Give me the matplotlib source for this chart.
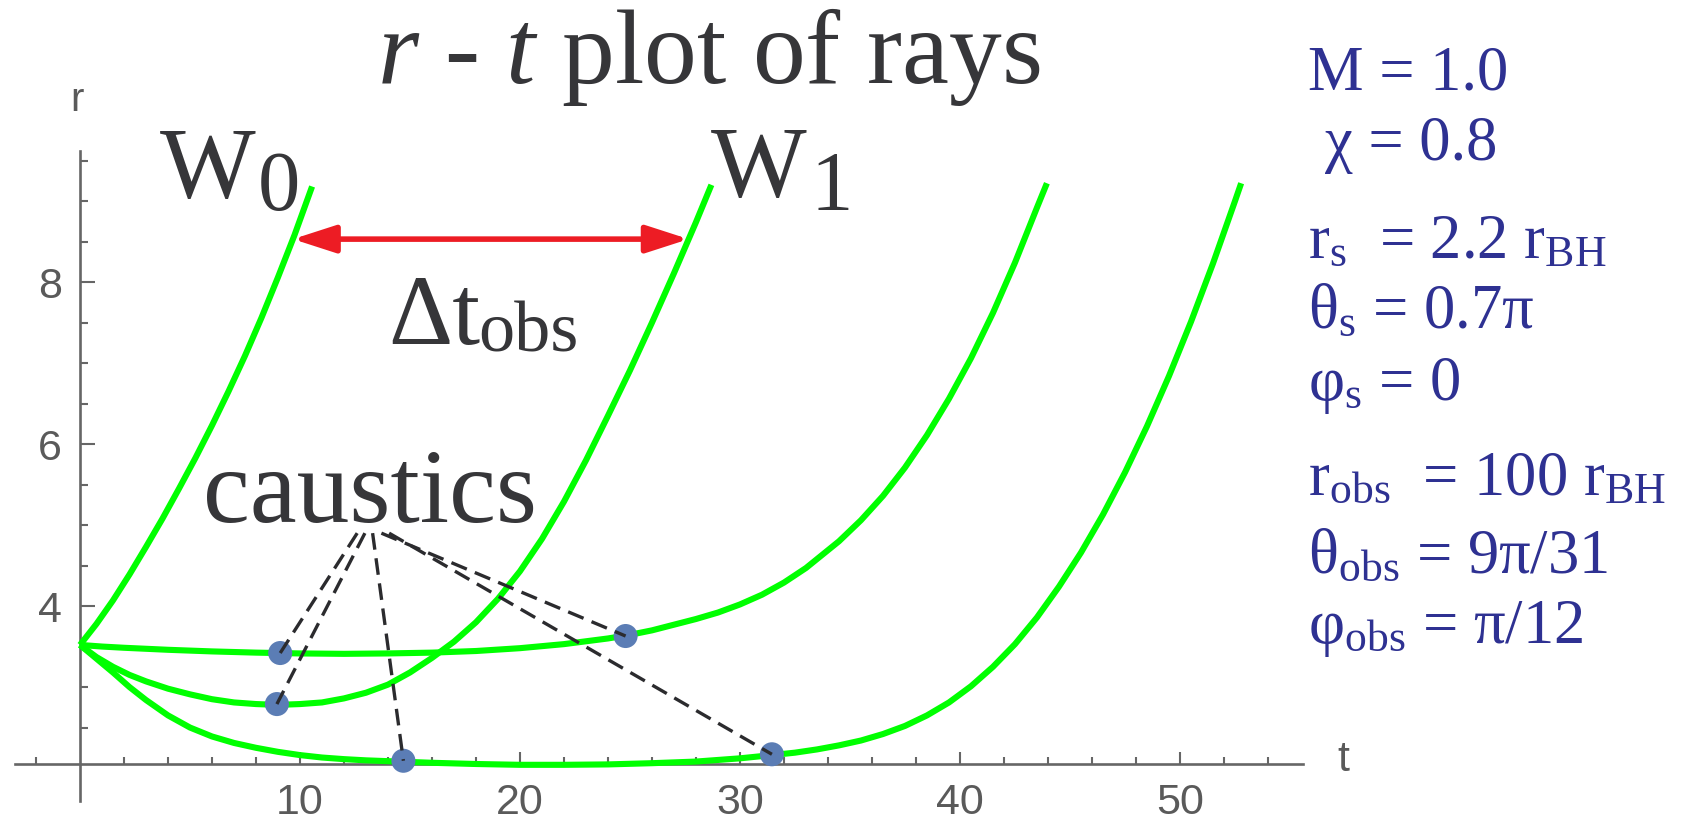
import matplotlib.pyplot as plt
import numpy as np

# rays in the r - t plane
ray_w0_t = [0, 0.75, 1.5, 2.25, 3.0, 3.75, 4.5, 5.25, 6.0, 6.75, 7.5, 8.25, 9.0, 9.75, 10.55]
ray_w0_r = [3.52, 3.78, 4.07, 4.39, 4.73, 5.08, 5.45, 5.83, 6.23, 6.65, 7.09, 7.56, 8.06, 8.58, 9.18]

ray_w1_t = [0, 0.75, 1.5, 2.25, 3, 4, 5, 6, 7, 8, 9, 10, 11, 12, 13, 14, 15, 16, 17, 18, 19,
            20, 21, 22, 23, 24, 25, 26, 27, 28, 28.7]
ray_w1_r = [3.52, 3.37, 3.25, 3.15, 3.07, 2.98, 2.91, 2.85, 2.81, 2.79, 2.78, 2.79, 2.81, 2.86, 2.93,
            3.03, 3.18, 3.36, 3.56, 3.80, 4.09, 4.43, 4.83, 5.29, 5.80, 6.35, 6.91, 7.50, 8.11, 8.74, 9.2]

ray_c_t = [0, 1, 2, 4, 6, 8, 10, 12, 14, 16, 18, 20, 22, 24, 25, 26, 27, 28, 29, 30, 31, 32,
           33, 33.5, 34.5, 35.5, 36.5, 37.5, 38.5, 39.5, 40.5, 41.5, 42.5, 43.5, 43.95]
ray_c_r = [3.52, 3.50, 3.485, 3.46, 3.44, 3.425, 3.415, 3.41, 3.415, 3.425, 3.445, 3.48, 3.53, 3.6,
           3.645, 3.70, 3.77, 3.84, 3.92, 4.02, 4.14, 4.29, 4.47, 4.58, 4.80, 5.06, 5.36, 5.71, 6.11,
           6.56, 7.06, 7.62, 8.24, 8.92, 9.22]

ray_d_t = [0, 0.75, 1.5, 2.25, 3, 4, 5, 6, 7, 8, 9, 10, 11, 12, 13, 14, 15, 16, 18, 20, 22, 24,
           26, 28, 30, 31.45, 32.5, 33.5, 34.5, 35.5, 36.5, 37.5, 38.5, 39.5, 40.5, 41.5, 42.5,
           43.5, 44.5, 45.5, 46.5, 47.5, 48.5, 49.5, 50.5, 51.5, 52.5, 52.78]
ray_d_r = [3.52, 3.35, 3.18, 3.0, 2.84, 2.65, 2.50, 2.39, 2.31, 2.25, 2.20, 2.16, 2.13, 2.11, 2.095,
           2.085, 2.075, 2.065, 2.05, 2.04, 2.04, 2.045, 2.06, 2.08, 2.12, 2.16, 2.19, 2.23, 2.28,
           2.34, 2.42, 2.52, 2.65, 2.81, 3.01, 3.25, 3.53, 3.86, 4.24, 4.66, 5.13, 5.65, 6.22, 6.84,
           7.51, 8.23, 9.0, 9.22]

rays = [(ray_w0_t, ray_w0_r), (ray_w1_t, ray_w1_r), (ray_c_t, ray_c_r), (ray_d_t, ray_d_r)]

# caustic points
caustic_t = [9.1, 8.95, 14.7, 24.8, 31.45]
caustic_r = [3.42, 2.79, 2.09, 3.63, 2.17]
# where the dashed leaders leave the "caustics" label
leader_t = [12.6, 12.95, 13.3, 13.7, 14.05]
leader_r = 4.9

arrow_r = 8.53

x_major = [10, 20, 30, 40, 50]
x_minor = [t for t in range(-2, 56, 2) if t % 10 != 0]
y_major = [4, 6, 8]
y_minor = [v / 2 for v in range(5, 20) if v % 4 != 0]

params = [
    ("M = 1.0", 1308, 90),
    ("χ = 0.8", 1325, 160),
    (r"r$_{\mathrm{s}}$  = 2.2 r$_{\mathrm{BH}}$", 1308, 258),
    (r"θ$_{\mathrm{s}}$ = 0.7π", 1308, 328),
    (r"φ$_{\mathrm{s}}$ = 0", 1308, 400),
    (r"r$_{\mathrm{obs}}$  = 100 r$_{\mathrm{BH}}$", 1308, 495),
    (r"θ$_{\mathrm{obs}}$ = 9π/31", 1308, 573),
    (r"φ$_{\mathrm{obs}}$ = π/12", 1308, 643),
]

plt.rcParams["mathtext.fontset"] = "custom"
plt.rcParams["mathtext.rm"] = "Liberation Serif"
plt.rcParams["mathtext.it"] = "Liberation Serif:italic"

W, H = 1698, 823
fig = plt.figure(figsize=(W / 100, H / 100), dpi=100)
ax = fig.add_axes([0, 0, 1, 1])
# t = 0 at 80 px, 22 px per unit; r = 2.05 at 764 px, 81 px per unit
ax.set_xlim(-80 / 22, (W - 80) / 22)
ax.set_ylim(2.05 - (H - 764) / 81, 2.05 + 764 / 81)

axis_col = "#666666"
for side in ["top", "right"]:
    ax.spines[side].set_visible(False)
ax.spines["left"].set_position(("data", 0))
ax.spines["bottom"].set_position(("data", 2.05))
ax.spines["left"].set_bounds(1.59, 9.62)
ax.spines["bottom"].set_bounds(-2.95, 55.6)
for side in ["left", "bottom"]:
    ax.spines[side].set_color(axis_col)
    ax.spines[side].set_linewidth(1.9)

ax.set_xticks(x_major)
ax.set_xticks(x_minor, minor=True)
ax.set_yticks(y_major)
ax.set_yticks(y_minor, minor=True)
ax.tick_params(which="both", direction="in", color=axis_col, width=1.5,
               labelsize=31, labelcolor="#5a5a5a")
ax.tick_params(axis="x", which="major", length=8.6, pad=13.5)
ax.tick_params(axis="x", which="minor", length=5)
ax.tick_params(axis="y", which="major", length=10.8, pad=13)
ax.tick_params(axis="y", which="minor", length=5.8)
for lab in ax.get_xticklabels() + ax.get_yticklabels():
    lab.set_family("Liberation Sans")

def at(px, py):
    return px / W, 1 - py / H

fig.text(*at(1343, 760), "t", fontsize=31, color="#5a5a5a", family="Liberation Sans",
         ha="center", va="center")
fig.text(*at(77, 100), "r", fontsize=29, color="#5a5a5a", family="Liberation Sans",
         ha="center", va="center")

# rays
for t, r in rays:
    ax.plot(t, r, color="#00ff00", lw=4.4, solid_capstyle="butt",
            solid_joinstyle="round", zorder=3)

# caustics
ax.scatter(caustic_t, caustic_r, s=300, color="#5b7db5", edgecolor="none", zorder=4)
for lt, ct, cr in zip(leader_t, caustic_t, caustic_r):
    ax.plot([lt, ct], [leader_r, cr], color="#2b2b2e", lw=2.4, ls=(0, (5, 2.6)), zorder=5)

# delta t arrow between W0 and W1
x0 = np.interp(arrow_r, ray_w0_r, ray_w0_t)
x1 = np.interp(arrow_r, ray_w1_r, ray_w1_t)
ax.annotate("", xy=(x1, arrow_r), xytext=(x0, arrow_r),
            arrowprops=dict(arrowstyle="<|-|>,head_length=1.3,head_width=0.42",
                            mutation_scale=20, color="#ed1c24", lw=4,
                            shrinkA=0, shrinkB=0), zorder=6)

dark = "#363639"
serif = "Liberation Serif"
fig.text(*at(377, 83), r"$r$ - $t$ plot of rays", fontsize=76, color=dark, family=serif,
         ha="left", va="baseline")
fig.text(*at(160, 198), "W", fontsize=73, color=dark, family=serif, va="baseline")
fig.text(*at(258, 210), "0", fontsize=61, color=dark, family=serif, va="baseline")
fig.text(*at(711, 197), "W", fontsize=73, color=dark, family=serif, va="baseline")
fig.text(*at(810, 210), "1", fontsize=61, color=dark, family=serif, va="baseline")
fig.text(*at(388, 344), "Δt", fontsize=72, color=dark, family=serif, va="baseline")
fig.text(*at(478, 352), "obs", fontsize=52, color=dark, family=serif, va="baseline")
fig.text(*at(203, 522), "caustics", fontsize=76, color=dark, family=serif, va="baseline")

for txt, px, py in params:
    fig.text(*at(px, py), txt, fontsize=45, color="#2e3192", family=serif, va="baseline")

fig.savefig("out.png", dpi=100)
